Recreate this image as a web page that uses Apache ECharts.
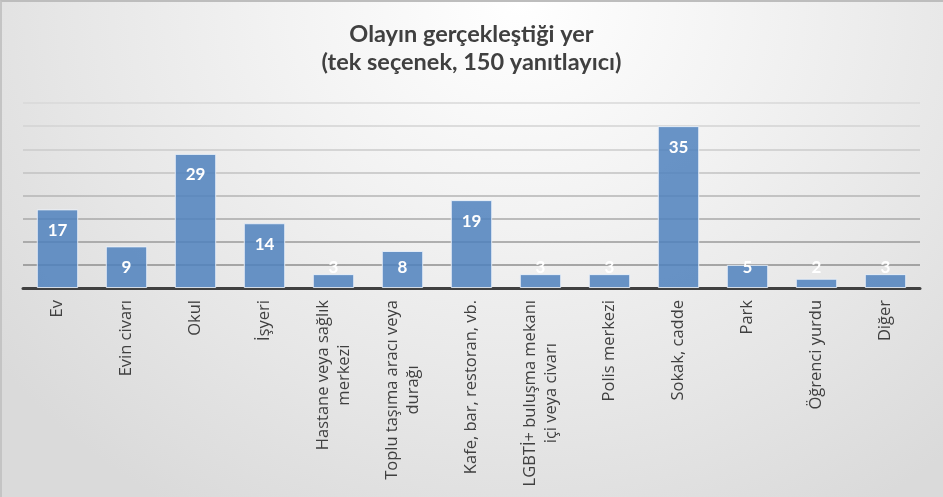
<!DOCTYPE html>
<html>
<head>
<meta charset="utf-8">
<script src="https://cdn.jsdelivr.net/npm/echarts@6/dist/echarts.min.js"></script>
<style>
html,body{margin:0;padding:0;}
body{width:943px;height:497px;overflow:hidden;}
#wrap{position:absolute;left:0;top:0;width:943px;height:497px;box-sizing:border-box;
border-top:2px solid #bdbdbd;border-left:2px solid #c4c4c4;
background:radial-gradient(ellipse 70% 120% at 55% 0%, #ffffff 0%, #f3f3f3 35%, #e6e6e6 70%, #dadada 100%);}
#chart{position:absolute;left:0;top:0;width:943px;height:497px;}
</style>
</head>
<body>
<div id="wrap"></div>
<div id="chart"></div>
<script>
const titleText = 'Olayın gerçekleştiği yer\n(tek seçenek, 150 yanıtlayıcı)';
const categories = [
  'Ev',
  'Evin civarı',
  'Okul',
  'İşyeri',
  'Hastane veya sağlık\nmerkezi',
  'Toplu taşıma aracı veya\ndurağı',
  'Kafe, bar, restoran, vb.',
  'LGBTİ+ buluşma mekanı\niçi veya civarı',
  'Polis merkezi',
  'Sokak, cadde',
  'Park',
  'Öğrenci yurdu',
  'Diğer'
];
const values = [17, 9, 29, 14, 3, 8, 19, 3, 3, 35, 5, 2, 3];
const yMin = 0, yMax = 40, yInterval = 5;

const chart = echarts.init(document.getElementById('chart'), null, {renderer: 'canvas'});

const seriesData = values.map(v => v < 9
  ? {value: v, label: {position: 'insideBottom', distance: 12}}
  : {value: v});

chart.setOption({
  backgroundColor: 'transparent',
  animation: false,
  title: {
    text: titleText,
    left: 'center',
    top: 15,
    textStyle: {fontFamily: 'Lato', fontWeight: 'bold', fontSize: 23.5, lineHeight: 28, color: '#404040'}
  },
  grid: {left: 23, right: 23, top: 103, bottom: 209, containLabel: false},
  xAxis: {
    type: 'category',
    data: categories,
    axisLine: {show: true, lineStyle: {color: '#404040', width: 3}},
    axisTick: {show: false},
    axisLabel: {
      interval: 0,
      rotate: 90,
      margin: 12,
      color: '#404040',
      fontFamily: 'Open Sans',
      fontSize: 16.5,
      formatter: function (v) {
        return v.split('\n').map(l => '{c|' + l + '}').join('\n');
      },
      rich: {c: {align: 'center', fontFamily: 'Open Sans', fontSize: 16.5, lineHeight: 21, color: '#404040'}}
    }
  },
  yAxis: {
    type: 'value',
    min: yMin, max: yMax, interval: yInterval,
    axisLabel: {show: false},
    axisLine: {show: false},
    axisTick: {show: false},
    splitLine: {show: true, lineStyle: {width: 1.6, color: ['#404040', '#8e8e8e', '#9a9a9a', '#a8a8a8', '#b5b5b5', '#c2c2c2', '#cbcbcb', '#d3d3d3', '#d9d9d9']}}
  },
  series: [{
    type: 'bar',
    data: seriesData,
    barCategoryGap: '40%',
    itemStyle: {color: 'rgba(79,129,189,0.85)', borderColor: 'rgba(235,242,250,0.85)', borderWidth: 1},
    label: {
      show: true,
      position: 'insideTop',
      distance: 13,
      color: '#ffffff',
      fontFamily: 'Lato',
      fontWeight: 'bold',
      fontSize: 17,
      lineHeight: 16
    },
    z: 3
  }]
});
</script>
</body>
</html>
